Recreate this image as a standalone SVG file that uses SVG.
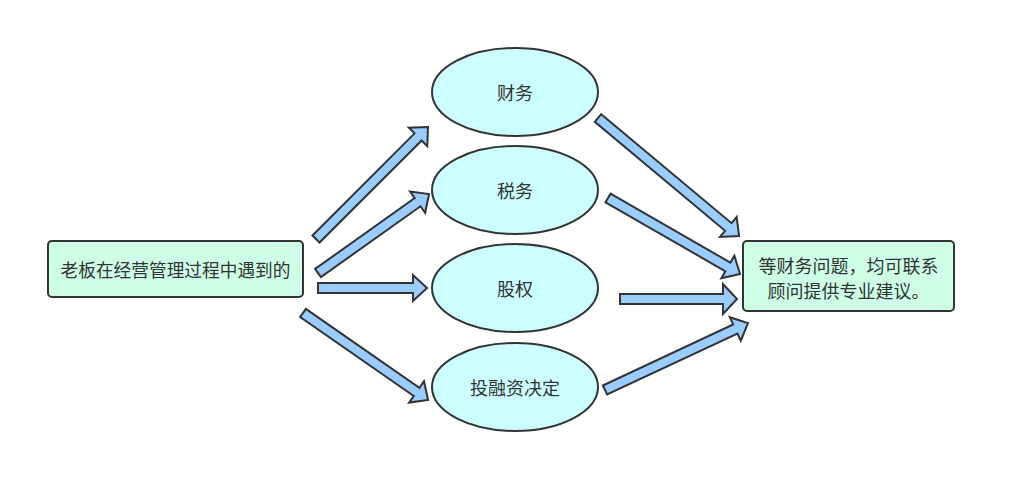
<svg xmlns="http://www.w3.org/2000/svg" width="1016" height="493" viewBox="0 0 1016 493">
<style>
.box{fill:#ccffe6;stroke:#333;stroke-width:2}
.ell{fill:#ccffff;stroke:#333;stroke-width:2}
.arr{fill:#99ccff;stroke:#333;stroke-width:2;stroke-linejoin:miter}
text{font-family:"Noto Sans CJK SC","Liberation Sans",sans-serif;font-size:18px;fill:#333;text-anchor:middle;dominant-baseline:central}
</style>
<rect width="1016" height="493" fill="#fff"/>
<g id="connectors">
<path class="arr" transform="translate(316,239) rotate(-45)" d="M0,-5 L144.4,-5 L144.4,-13 L158.4,0 L144.4,13 L144.4,5 L0,5 Z"/>
<path class="arr" transform="translate(318,273) rotate(-35.4)" d="M0,-5 L122.2,-5 L122.2,-13 L136.2,0 L122.2,13 L122.2,5 L0,5 Z"/>
<path class="arr" transform="translate(318,288)" d="M0,-5 L95,-5 L95,-13 L109,0 L95,13 L95,5 L0,5 Z"/>
<path class="arr" transform="translate(303,313) rotate(34.8)" d="M0,-5 L138.3,-5 L138.3,-13 L152.3,0 L138.3,13 L138.3,5 L0,5 Z"/>
<path class="arr" transform="translate(598,118) rotate(39.9)" d="M0,-5 L169.9,-5 L169.9,-13 L183.9,0 L169.9,13 L169.9,5 L0,5 Z"/>
<path class="arr" transform="translate(608,198) rotate(29.9)" d="M0,-5 L138.3,-5 L138.3,-13 L152.3,0 L138.3,13 L138.3,5 L0,5 Z"/>
<path class="arr" transform="translate(620,299)" d="M0,-5 L103,-5 L103,-15 L117,0 L103,15 L103,5 L0,5 Z"/>
<path class="arr" transform="translate(605,390) rotate(-25.1)" d="M0,-5 L143.9,-5 L143.9,-13 L157.9,0 L143.9,13 L143.9,5 L0,5 Z"/>
</g>
<g id="start">
<rect class="box" x="48" y="241" width="255" height="56" rx="4"/>
<text x="175.5" y="269" style="font-size:17.7px">老板在经营管理过程中遇到的</text>
</g>
<g id="finance">
<ellipse class="ell" cx="515" cy="92" rx="83" ry="44"/>
<text x="515" y="92">财务</text>
</g>
<g id="tax">
<ellipse class="ell" cx="515" cy="190" rx="83" ry="44"/>
<text x="515" y="190">税务</text>
</g>
<g id="equity">
<ellipse class="ell" cx="515" cy="288" rx="83" ry="44"/>
<text x="515" y="288">股权</text>
</g>
<g id="investment">
<ellipse class="ell" cx="515" cy="387" rx="83" ry="44"/>
<text x="515" y="387">投融资决定</text>
</g>
<g id="end">
<rect class="box" x="743" y="241" width="211" height="70" rx="4"/>
<text x="848.5" y="265">等财务问题，均可联系</text>
<text x="848.5" y="290">顾问提供专业建议。</text>
</g>
</svg>
